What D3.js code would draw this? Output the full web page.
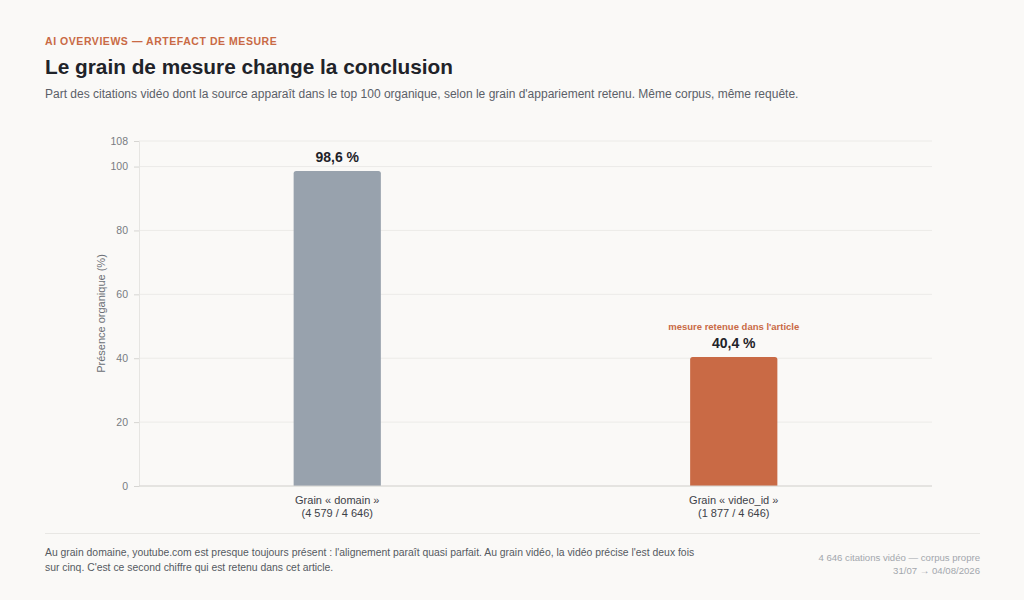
<!DOCTYPE html>
<html lang="fr">
<head>
<meta charset="utf-8">
<script src="https://cdn.jsdelivr.net/npm/d3@7"></script>
<style>
  html, body { margin: 0; padding: 0; background: #faf9f7; }
  svg { display: block; font-family: "Liberation Sans", Arial, sans-serif; }
</style>
</head>
<body>
<svg id="chart"></svg>
<script>
// Données
const categories = ["domain", "video_id"];
const shares = [98.6, 40.4];
const counts = ["4 579 / 4 646", "1 877 / 4 646"];
const yTicks = [0, 20, 40, 60, 80, 100, 108];
const highlighted = "video_id";

const width = 1024, height = 600;
const marginLeft = 139, marginRight = 92, marginTop = 141, marginBottom = 114;
const accent = "#c96a45";
const grey = "#98a2ad";

const svg = d3.select("#chart")
    .attr("width", width)
    .attr("height", height)
    .attr("viewBox", [0, 0, width, height]);

svg.append("rect").attr("width", width).attr("height", height).attr("fill", "#faf9f7");

// en-tête
svg.append("text")
    .attr("x", 45).attr("y", 45)
    .attr("fill", accent)
    .attr("font-size", 10.5).attr("font-weight", 700)
    .attr("letter-spacing", 0.55)
    .text("AI OVERVIEWS — ARTEFACT DE MESURE");

svg.append("text")
    .attr("x", 45).attr("y", 74)
    .attr("fill", "#1f2329")
    .attr("font-size", 20.8).attr("font-weight", 700)
    .text("Le grain de mesure change la conclusion");

svg.append("text")
    .attr("x", 45).attr("y", 98)
    .attr("fill", "#5b6068")
    .attr("font-size", 12)
    .text("Part des citations vidéo dont la source apparaît dans le top 100 organique, selon le grain d'appariement retenu. Même corpus, même requête.");

// scales
const x = d3.scaleBand()
    .domain(categories)
    .range([marginLeft, width - marginRight])
    .padding(0);
const barW = x.bandwidth() * 0.22;

const y = d3.scaleLinear()
    .domain([0, 108])
    .range([height - marginBottom, marginTop]);

// grille
svg.append("g")
    .selectAll("line")
    .data(yTicks)
    .join("line")
      .attr("x1", marginLeft)
      .attr("x2", width - marginRight)
      .attr("y1", d => y(d))
      .attr("y2", d => y(d))
      .attr("stroke", "#ecebe8")
      .attr("stroke-width", 1);

// axe y
svg.append("g")
    .attr("transform", `translate(${marginLeft},0)`)
    .call(d3.axisLeft(y).tickValues(yTicks).tickSize(5).tickPadding(6))
    .call(g => g.select(".domain").attr("stroke", "#e6e5e2"))
    .call(g => g.selectAll(".tick line").attr("stroke", "#d6d5d2"))
    .call(g => g.selectAll(".tick text")
        .attr("fill", "#787c82")
        .attr("font-size", 10.5)
        .attr("font-family", "Liberation Sans, Arial, sans-serif"));

svg.append("text")
    .attr("transform", `translate(105,${(marginTop + height - marginBottom) / 2}) rotate(-90)`)
    .attr("text-anchor", "middle")
    .attr("fill", "#6b6f75")
    .attr("font-size", 11)
    .text("Présence organique (%)");

// barres
const bars = categories.map((c, i) => ({ cat: c, value: shares[i], count: counts[i] }));

svg.append("g")
    .selectAll("path")
    .data(bars)
    .join("path")
      .attr("fill", d => d.cat === highlighted ? accent : grey)
      .attr("d", d => {
        const x0 = x(d.cat) + x.bandwidth() / 2 - barW / 2;
        const y0 = y(d.value), y1 = y(0), r = 2.5;
        return `M${x0},${y1}V${y0 + r}Q${x0},${y0} ${x0 + r},${y0}H${x0 + barW - r}Q${x0 + barW},${y0} ${x0 + barW},${y0 + r}V${y1}Z`;
      });

// axe x
svg.append("line")
    .attr("x1", marginLeft).attr("x2", width - marginRight)
    .attr("y1", y(0)).attr("y2", y(0))
    .attr("stroke", "#d6d5d2");

const xl = svg.append("g")
    .selectAll("text")
    .data(bars)
    .join("text")
      .attr("x", d => x(d.cat) + x.bandwidth() / 2)
      .attr("y", y(0) + 18)
      .attr("text-anchor", "middle")
      .attr("fill", "#3d4148")
      .attr("font-size", 11);
xl.append("tspan").text(d => `Grain « ${d.cat} »`);
xl.append("tspan")
    .attr("x", d => x(d.cat) + x.bandwidth() / 2)
    .attr("dy", 13)
    .text(d => `(${d.count})`);

// étiquettes de valeur
svg.append("g")
    .selectAll("text")
    .data(bars)
    .join("text")
      .attr("x", d => x(d.cat) + x.bandwidth() / 2)
      .attr("y", d => y(d.value) - 9)
      .attr("text-anchor", "middle")
      .attr("fill", "#1f2329")
      .attr("font-size", 14).attr("font-weight", 700)
      .text(d => d3.format(".1f")(d.value).replace(".", ",") + " %");

svg.append("text")
    .datum(bars.find(d => d.cat === highlighted))
    .attr("x", d => x(d.cat) + x.bandwidth() / 2)
    .attr("y", d => y(d.value) - 27)
    .attr("text-anchor", "middle")
    .attr("fill", accent)
    .attr("font-size", 9.5).attr("font-weight", 700)
    .text("mesure retenue dans l'article");

// pied
svg.append("line")
    .attr("x1", 45).attr("x2", 980)
    .attr("y1", 533.5).attr("y2", 533.5)
    .attr("stroke", "#e8e7e4");

const foot = svg.append("text")
    .attr("x", 45).attr("y", 556)
    .attr("fill", "#555a61")
    .attr("font-size", 10.4);
foot.append("tspan").text("Au grain domaine, youtube.com est presque toujours présent : l'alignement paraît quasi parfait. Au grain vidéo, la vidéo précise l'est deux fois");
foot.append("tspan").attr("x", 45).attr("dy", 15).text("sur cinq. C'est ce second chiffre qui est retenu dans cet article.");

const src = svg.append("text")
    .attr("x", 980).attr("y", 561)
    .attr("text-anchor", "end")
    .attr("fill", "#a3a7ad")
    .attr("font-size", 9.6);
src.append("tspan").text("4 646 citations vidéo — corpus propre");
src.append("tspan").attr("x", 980).attr("dy", 13).text("31/07 → 04/08/2026");
</script>
</body>
</html>
